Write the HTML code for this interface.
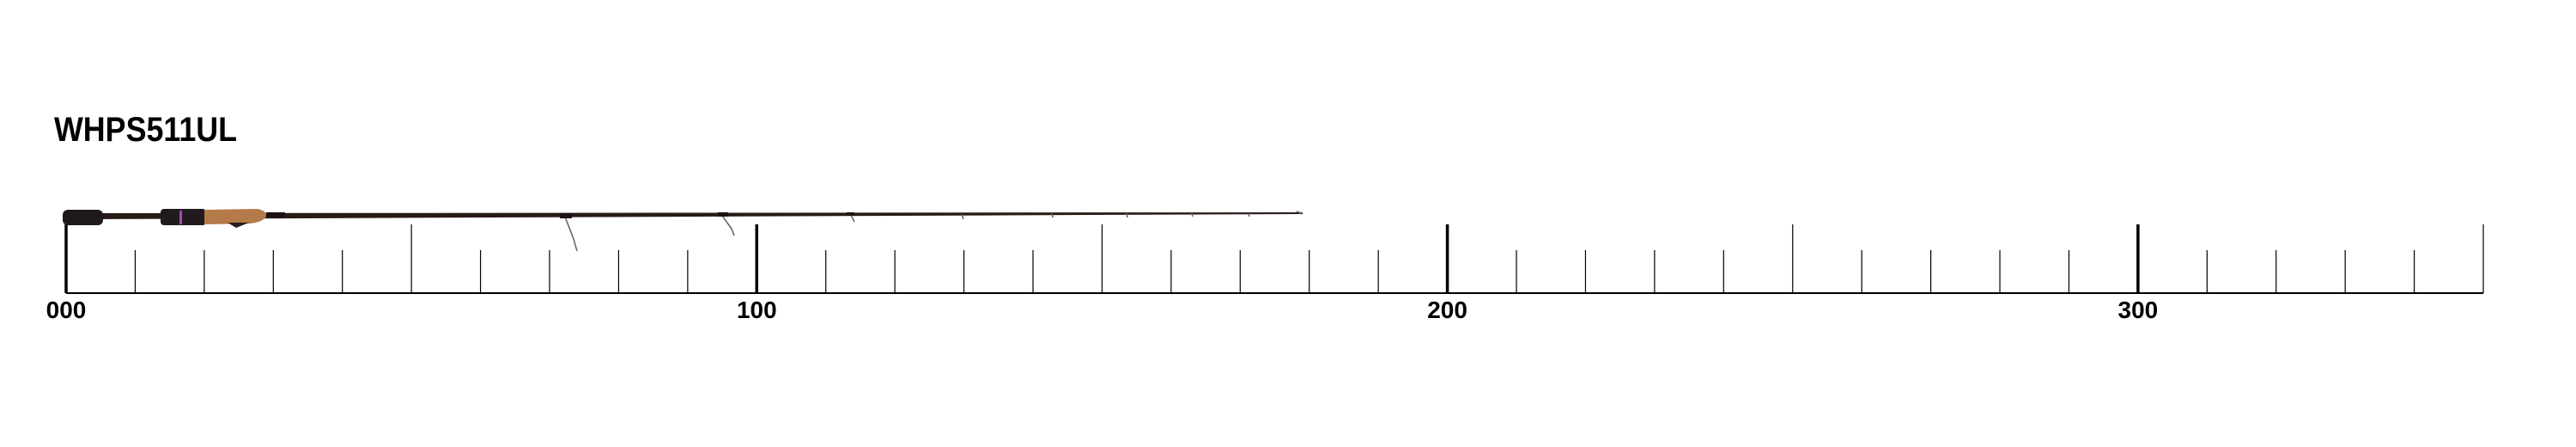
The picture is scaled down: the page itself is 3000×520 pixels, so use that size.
<!DOCTYPE html>
<html><head><meta charset="utf-8"><style>
html,body{margin:0;padding:0;background:#fff;width:3000px;height:520px;overflow:hidden}
svg{display:block}
text{font-family:"Liberation Sans",sans-serif;font-weight:bold;fill:#000}
</style></head><body>
<svg width="3000" height="520" viewBox="0 0 3000 520" xmlns="http://www.w3.org/2000/svg">
<text x="63" y="164" font-size="40" textLength="213" lengthAdjust="spacingAndGlyphs">WHPS511UL</text>
<g stroke="#000">
<line x1="77" y1="341" x2="2892" y2="341" stroke-width="2"/>
<g id="ticks" stroke-width="1.2"></g>
</g>
<g id="labels" font-size="28"></g>
<!-- rod -->
<polygon points="110,248 1517,247 1517,249 110,255" fill="#2a1a16"/>
<rect x="73" y="244" width="47" height="18" rx="6" fill="#1e1a1c"/>
<rect x="187" y="243" width="53" height="19" rx="4" fill="#201a1e"/>
<rect x="209" y="245" width="3" height="16" fill="#a04bb0"/>
<path d="M238 244 L300 243 Q312 246 310 252 Q305 259 290 260 L238 261 Z" fill="#b47a4a"/>
<path d="M265 259 L290 259 L275 265 Z" fill="#2a1a18"/>
<rect x="310" y="247" width="22" height="6" fill="#1c1214"/>
<g stroke="#6a5a5a" stroke-width="1.5" fill="none">
<path d="M658 252 L668 278 L672 292"/>
<path d="M841 251 L852 266 L855 274"/>
<path d="M991 250 L995 258"/>
<path d="M1120 249 L1122 255"/>
<path d="M1225 248 L1226 253"/>
<path d="M1312 248 L1313 253"/>
<path d="M1388 248 L1389 252"/>
<path d="M1454 248 L1455 252"/>
<path d="M1510 246 L1517 249"/>
</g>
<g fill="#1c1214">
<rect x="652" y="248" width="14" height="6"/>
<rect x="836" y="247" width="12" height="5"/>
<rect x="986" y="247" width="9" height="4"/>
</g>
</svg>
<script>
var t=document.getElementById('ticks'),l=document.getElementById('labels');
for(var i=0;i<=35;i++){var x=77+i*80.43;var big=i%10==0,mid=i%5==0;
var ln=document.createElementNS('http://www.w3.org/2000/svg','line');
ln.setAttribute('x1',x);ln.setAttribute('x2',x);ln.setAttribute('y2',341);
ln.setAttribute('y1',(big||mid)?261:291);if(big)ln.setAttribute('stroke-width','3.5');
t.appendChild(ln);
if(big){var tx=document.createElementNS('http://www.w3.org/2000/svg','text');
tx.setAttribute('x',x);tx.setAttribute('y',370);tx.setAttribute('text-anchor','middle');
tx.textContent=i==0?'000':String(i*10);l.appendChild(tx);}}
</script>
</body></html>
